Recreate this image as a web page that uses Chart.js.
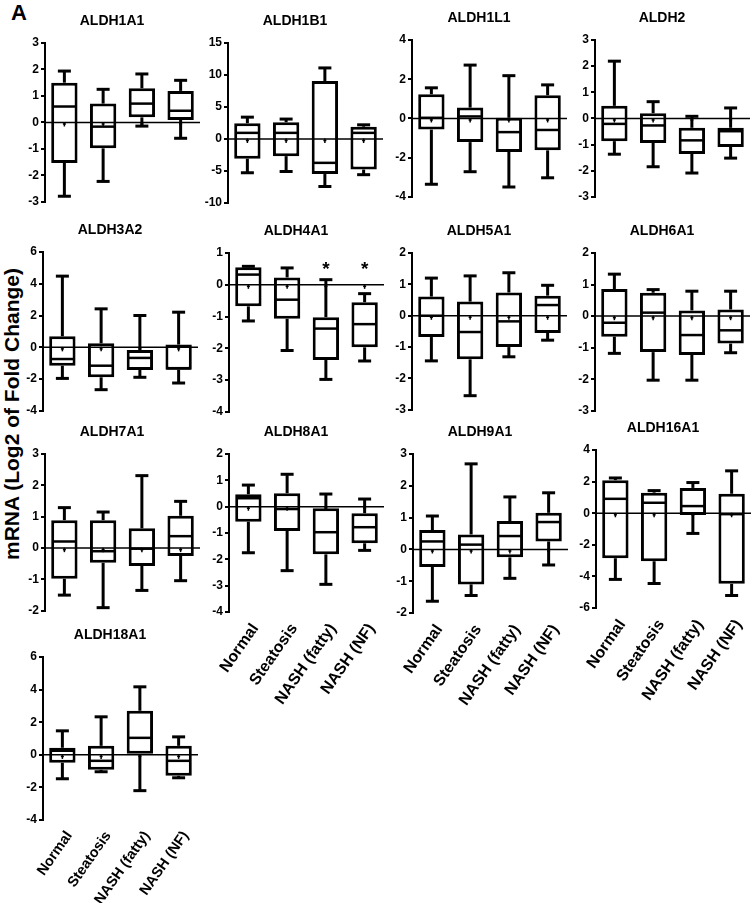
<!DOCTYPE html>
<html><head><meta charset="utf-8">
<script src="https://cdn.jsdelivr.net/npm/chart.js@4.4.0/dist/chart.umd.min.js"></script>
<style>
html,body{margin:0;padding:0;background:#fff;width:755px;height:903px;overflow:hidden;position:relative;font-family:"Liberation Sans",Arial,sans-serif;}
canvas{position:absolute;}
#lblA{position:absolute;left:11px;top:2px;font-weight:bold;font-size:22px;line-height:22px;color:#000;}
#ylab{position:absolute;left:-188px;top:403px;width:400px;height:22px;line-height:22px;text-align:center;font-weight:bold;font-size:21px;color:#000;transform:rotate(-90deg);transform-origin:50% 50%;white-space:nowrap;}
</style>
</head><body>
<div id="lblA">A</div>
<div id="ylab">mRNA (Log2 of Fold Change)</div>
<script>
const categories = ['Normal', 'Steatosis', 'NASH (fatty)', 'NASH (NF)'];
const genes = ['ALDH1A1','ALDH1B1','ALDH1L1','ALDH2','ALDH3A2','ALDH4A1','ALDH5A1','ALDH6A1','ALDH7A1','ALDH8A1','ALDH9A1','ALDH16A1','ALDH18A1'];

const whiskerMax = [
  [1.94, 1.25, 1.83, 1.59],
  [3.4, 3.1, 11.1, 2.2],
  [1.56, 2.72, 2.18, 1.71],
  [2.19, 0.64, 0.08, 0.4],
  [4.48, 2.42, 2.0, 2.21],
  [0.58, 0.53, 0.16, -0.28],
  [1.2, 1.27, 1.37, 0.97],
  [1.33, 0.84, 0.79, 0.79],
  [1.29, 1.15, 2.31, 1.49],
  [0.82, 1.23, 0.48, 0.29],
  [1.05, 2.69, 1.65, 1.78],
  [2.23, 1.43, 1.94, 2.68],
  [1.47, 2.33, 4.17, 1.1]
];
const upperQuartile = [
  [1.5, 0.71, 1.29, 1.19],
  [2.45, 2.6, 9.06, 1.9],
  [1.23, 0.55, 0.03, 1.18],
  [0.48, 0.2, -0.36, -0.36],
  [0.69, 0.25, -0.17, 0.17],
  [0.55, 0.23, -1.02, -0.55],
  [0.61, 0.45, 0.74, 0.64],
  [0.86, 0.74, 0.18, 0.21],
  [0.89, 0.89, 0.63, 1.03],
  [0.47, 0.51, -0.06, -0.25],
  [0.61, 0.47, 0.89, 1.15],
  [2.09, 1.3, 1.6, 1.23],
  [0.43, 0.55, 2.7, 0.55]
];
const medians = [
  [0.6, -0.16, 0.71, 0.44],
  [0.94, 0.94, -3.75, 0.94],
  [0.03, 0.1, -0.7, -0.59],
  [-0.21, -0.27, -0.84, -0.49],
  [-0.74, -1.16, -0.67, -1.33],
  [0.32, -0.47, -1.38, -1.24],
  [0.0, -0.52, -0.18, 0.34],
  [-0.21, 0.11, -0.6, -0.45],
  [0.21, -0.1, -0.02, 0.38],
  [0.32, -0.09, -0.97, -0.78],
  [0.25, 0.15, 0.42, 0.86],
  [0.91, 0.66, 0.45, -0.06],
  [0.25, -0.37, 1.04, -0.37]
];
const lowerQuartile = [
  [-1.53, -0.98, 0.19, 0.09],
  [-3.1, -2.7, -5.5, -4.8],
  [-0.57, -1.21, -1.71, -1.63],
  [-0.87, -0.94, -1.36, -1.09],
  [-1.16, -1.89, -1.43, -1.41],
  [-0.68, -1.07, -2.37, -1.97],
  [-0.68, -1.39, -1.0, -0.55],
  [-0.65, -1.14, -1.23, -0.87],
  [-0.98, -0.47, -0.57, -0.25],
  [-0.57, -0.92, -1.81, -1.39],
  [-0.55, -1.1, -0.25, 0.25],
  [-2.85, -3.04, -0.11, -4.47],
  [-0.49, -0.92, 0.0, -1.29]
];
const whiskerMin = [
  [-2.79, -2.23, -0.14, -0.6],
  [-5.3, -5.1, -7.45, -5.6],
  [-3.36, -2.72, -3.5, -3.03],
  [-1.37, -1.85, -2.09, -1.52],
  [-1.96, -2.67, -1.89, -2.25],
  [-1.14, -2.07, -2.98, -2.4],
  [-1.44, -2.55, -1.31, -0.78],
  [-1.18, -2.03, -2.03, -1.16],
  [-1.5, -1.9, -1.35, -1.04],
  [-1.75, -2.43, -2.95, -1.66],
  [-1.63, -1.45, -0.91, -0.49],
  [-4.19, -4.45, -1.28, -5.21],
  [-1.47, -1.04, -2.2, -1.41]
];
const means = [
  [-0.06, -0.06, -0.06, -0.06],
  [-0.25, -0.25, -0.25, -0.25],
  [-0.08, -0.08, -0.08, -0.08],
  [-0.06, -0.06, -0.06, -0.06],
  [-0.1, -0.1, -0.1, -0.1],
  [-0.05, -0.05, -0.05, -0.05],
  [-0.05, -0.05, -0.05, -0.05],
  [-0.05, -0.05, -0.05, -0.05],
  [-0.05, -0.05, -0.05, -0.05],
  [-0.06, -0.06, -0.06, -0.06],
  [-0.05, -0.05, -0.05, -0.05],
  [-0.1, -0.1, -0.1, -0.1],
  [-0.1, -0.1, -0.1, -0.1]
];
const significant = [
  [0,0,0,0],[0,0,0,0],[0,0,0,0],[0,0,0,0],
  [0,0,0,0],[0,0,1,1],[0,0,0,0],[0,0,0,0],
  [0,0,0,0],[0,0,0,0],[0,0,0,0],[0,0,0,0],[0,0,0,0]
];
const yMin  = [-3, -10, -4, -3, -4, -4, -3, -3, -2, -4, -2, -6, -4];
const yMax  = [ 3,  15,  4,  3,  6,  1,  2,  2,  3,  2,  3,  4,  6];
const yStep = [ 1,   5,  2,  1,  2,  1,  1,  1,  1,  1,  1,  2,  2];

// page layout: [axis x, axis top px, axis bottom px, category label font size (0 = none)]
const panelLayout = [
  [45, 43, 203, 0], [228, 43, 204, 0], [412, 40, 198, 0], [595, 40, 198, 0],
  [43, 252, 412, 0], [229, 253, 413, 0], [412, 253, 411, 0], [595, 253, 412, 0],
  [45, 454, 612, 0], [229, 454, 612, 16], [413, 454, 613, 16], [596, 450, 608, 16],
  [43, 657, 820, 14.5]
];

Chart.defaults.font.family = '"Liberation Sans", Arial, sans-serif';
Chart.defaults.color = '#000';

const FONT = '"Liberation Sans", Arial, sans-serif';
const AXW = 33, TOPPAD = 32, PLOTW = 155, RIGHTPAD = 12, XLABH = 110;

const boxParts = {
  id: 'boxParts',
  afterDatasetsDraw(chart) {
    const g = chart.options.plugins.boxParts.gene;
    const {ctx, chartArea} = chart;
    const y = chart.scales.y;
    const meta = chart.getDatasetMeta(0);
    const line = (x1, y1, x2, y2) => { ctx.beginPath(); ctx.moveTo(x1, y1); ctx.lineTo(x2, y2); ctx.stroke(); };
    ctx.save();
    ctx.strokeStyle = '#000';
    ctx.fillStyle = '#000';
    for (let i = 0; i < categories.length; i++) {
      const bar = meta.data[i];
      const cx = bar.x, hw = bar.width / 2, cap = 6.5;
      const pMax = y.getPixelForValue(whiskerMax[g][i]);
      const pQ3 = y.getPixelForValue(upperQuartile[g][i]);
      const pMed = y.getPixelForValue(medians[g][i]);
      const pQ1 = y.getPixelForValue(lowerQuartile[g][i]);
      const pMin = y.getPixelForValue(whiskerMin[g][i]);
      const pMean = y.getPixelForValue(means[g][i]);
      ctx.lineWidth = 3;
      line(cx, pQ3, cx, pMax);
      line(cx - cap, pMax, cx + cap, pMax);
      line(cx, pQ1, cx, pMin);
      line(cx - cap, pMin, cx + cap, pMin);
      ctx.lineWidth = 2.5;
      line(cx - hw + 1, pMed, cx + hw - 1, pMed);
      ctx.lineWidth = 1.5;
      line(cx, pMean - 2, cx, pMean + 2.5);
      line(cx - 1.5, pMean, cx + 1.5, pMean);
      if (significant[g][i]) {
        ctx.font = 'bold 19px ' + FONT;
        ctx.textAlign = 'center';
        ctx.textBaseline = 'alphabetic';
        ctx.fillText('*', cx, chartArea.top + 22);
      }
    }
    const y0 = y.getPixelForValue(0);
    ctx.lineWidth = 1.5;
    line(chartArea.left, y0, chartArea.right, y0);
    ctx.font = 'bold 14px ' + FONT;
    ctx.textAlign = 'center';
    ctx.textBaseline = 'middle';
    ctx.fillText(genes[g], chartArea.left + 67, chartArea.top - 22);
    ctx.restore();
  }
};

genes.forEach((gene, g) => {
  const [ax, top, bottom, labelSize] = panelLayout[g];
  const showX = labelSize > 0;
  const cv = document.createElement('canvas');
  const w = AXW + PLOTW + RIGHTPAD;
  const h = TOPPAD + (bottom - top) + (showX ? XLABH : 8);
  cv.width = w; cv.height = h;
  cv.style.width = w + 'px'; cv.style.height = h + 'px';
  cv.style.left = (ax - AXW) + 'px';
  cv.style.top = (top - TOPPAD) + 'px';
  document.body.appendChild(cv);
  const boxes = categories.map((c, i) => [lowerQuartile[g][i], upperQuartile[g][i]]);
  new Chart(cv, {
    type: 'bar',
    data: {
      labels: categories,
      datasets: [{
        data: boxes,
        backgroundColor: '#fff',
        borderColor: '#000',
        borderWidth: 3,
        borderSkipped: false,
        categoryPercentage: 1,
        barPercentage: 0.68
      }]
    },
    options: {
      responsive: false,
      animation: false,
      devicePixelRatio: 1,
      layout: {padding: {left: 0, right: RIGHTPAD, top: TOPPAD, bottom: showX ? 0 : 8}},
      plugins: {legend: {display: false}, tooltip: {enabled: false}, title: {display: false}, boxParts: {gene: g}},
      scales: {
        x: {
          display: showX,
          grid: {display: false},
          border: {display: false},
          ticks: {autoSkip: false, maxRotation: 55, minRotation: 55, padding: 0, labelOffset: 7, color: '#000', font: {size: labelSize || 16, weight: 'bold'}},
          afterFit: (s) => { if (showX) s.height = XLABH; }
        },
        y: {
          min: yMin[g], max: yMax[g],
          grid: {display: true, drawOnChartArea: false, drawTicks: true, tickLength: 4, color: '#000', lineWidth: 2},
          border: {display: true, color: '#000', width: 2},
          ticks: {stepSize: yStep[g], autoSkip: false, padding: 2, color: '#000', font: {size: 12, weight: 'bold'}},
          afterFit: (s) => { s.width = AXW; }
        }
      }
    },
    plugins: [boxParts]
  });
});
</script>
</body></html>
